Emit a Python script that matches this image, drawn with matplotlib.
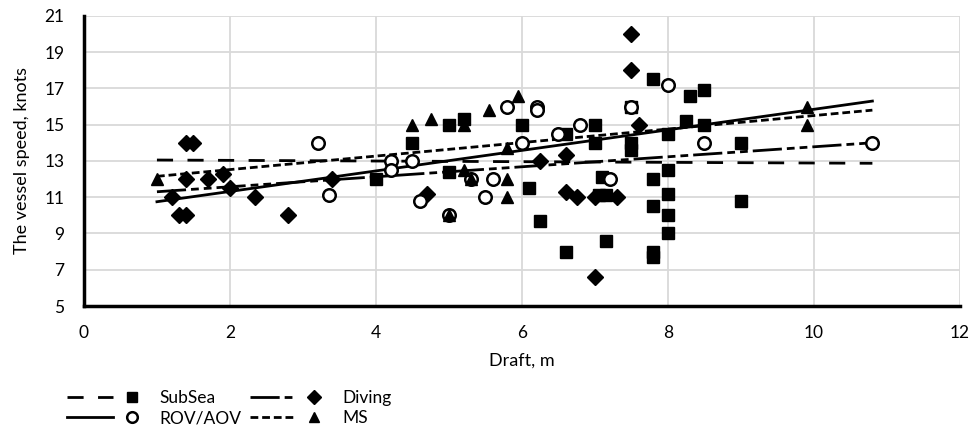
import matplotlib

matplotlib.use('Agg')
import matplotlib.pyplot as plt
from matplotlib.legend_handler import HandlerBase
from matplotlib.lines import Line2D

plt.rcParams['font.family'] = ['Lato', 'DejaVu Sans']

# scatter data (draft m, speed knots)
subsea_x = [4.0, 4.5, 5.0, 5.2, 5.0, 6.0, 6.1, 6.25, 6.6, 6.6, 7.0, 7.0, 7.1, 7.05, 7.15, 7.15,
            7.5, 7.5, 7.5, 7.8, 7.8, 7.8, 7.8, 7.8, 8.0, 8.0, 8.0, 8.0, 8.0, 8.25, 8.3, 8.5,
            8.5, 9.0, 9.0]
subsea_y = [12.0, 14.0, 15.0, 15.3, 12.4, 15.0, 11.5, 9.7, 14.5, 8.0, 15.0, 14.0, 12.1, 11.1, 11.1, 8.6,
            16.0, 13.6, 14.0, 17.5, 12.0, 10.5, 7.7, 8.0, 14.5, 12.5, 11.2, 10.0, 9.0, 15.2, 16.6, 16.9,
            15.0, 14.0, 10.8]

diving_x = [1.2, 1.4, 1.5, 1.3, 1.4, 1.4, 1.7, 1.9, 2.0, 2.35, 2.8, 3.4, 4.7, 6.25, 6.6, 6.6,
            6.75, 7.0, 7.3, 7.0, 7.5, 7.5, 7.6]
diving_y = [11.0, 14.0, 14.0, 10.0, 10.0, 12.0, 12.0, 12.3, 11.5, 11.0, 10.0, 12.0, 11.2, 13.0, 13.3, 11.3,
            11.0, 11.0, 11.0, 6.6, 20.0, 18.0, 15.0]

rov_x = [3.2, 3.35, 4.2, 4.2, 4.5, 4.6, 5.0, 5.3, 5.5, 5.6, 5.8, 6.0, 6.2, 6.2, 6.5, 6.8,
         7.2, 7.5, 8.0, 8.5, 10.8]
rov_y = [14.0, 11.1, 13.0, 12.5, 13.0, 10.8, 10.0, 12.0, 11.0, 12.0, 16.0, 14.0, 16.0, 15.8, 14.5, 15.0,
         12.0, 16.0, 17.2, 14.0, 14.0]

ms_x = [1.0, 4.5, 4.75, 5.0, 5.2, 5.2, 5.3, 5.55, 5.8, 5.8, 5.8, 5.95, 9.9, 9.9]
ms_y = [12.0, 15.0, 15.3, 10.0, 15.0, 12.5, 12.0, 15.8, 13.7, 12.0, 11.0, 16.6, 16.0, 15.0]

# linear trend lines, end points
trend_x = [1.0, 10.8]
subsea_trend = [13.05, 12.87]
diving_trend = [11.3, 14.0]
rov_trend = [10.75, 16.3]
ms_trend = [12.15, 15.8]

labels = ['SubSea', 'ROV/AOV', 'Diving', 'MS']


class LineMarkerHandler(HandlerBase):
    # line segment followed by the marker, as in the original legend
    def create_artists(self, legend, orig_handle, xdescent, ydescent, width, height, fontsize, trans):
        line_src, mark_src = orig_handle
        y = height / 2 - ydescent
        x0 = -xdescent
        line = Line2D([x0, x0 + 0.6 * width], [y, y], color='black',
                      lw=line_src.get_linewidth(), linestyle=line_src.get_linestyle())
        if line_src._unscaled_dash_pattern[1]:
            line.set_dashes(line_src._unscaled_dash_pattern[1])
        mark = Line2D([x0 + 0.84 * width], [y], linestyle='none',
                      marker=mark_src.get_marker(), markersize=mark_src.get_markersize() * 0.85,
                      mfc=mark_src.get_markerfacecolor(), mec=mark_src.get_markeredgecolor(),
                      mew=mark_src.get_markeredgewidth())
        line.set_transform(trans)
        mark.set_transform(trans)
        return [line, mark]


fig = plt.figure(figsize=(9.76, 4.28), dpi=100)
ax = fig.add_axes([0.086, 0.285, 0.8976, 0.678])

lw = 2.0
t1, = ax.plot(trend_x, subsea_trend, color='black', lw=lw, dashes=(5.8, 5.2))
t2, = ax.plot(trend_x, diving_trend, color='black', lw=lw, dashes=(10.5, 1.8, 2.8, 1.8, 2.8, 1.8))
t3, = ax.plot(trend_x, rov_trend, color='black', lw=lw)
t4, = ax.plot(trend_x, ms_trend, color='black', lw=lw, dashes=(2.8, 1.4))

m1, = ax.plot(subsea_x, subsea_y, ls='none', marker='s', ms=8.5, color='black', zorder=3)
m2, = ax.plot(diving_x, diving_y, ls='none', marker='D', ms=7.8, color='black', zorder=3)
m3, = ax.plot(rov_x, rov_y, ls='none', marker='o', ms=9, mfc='white', mec='black', mew=1.8, zorder=3)
m4, = ax.plot(ms_x, ms_y, ls='none', marker='^', ms=9, color='black', zorder=3)

ax.set_xlim(0, 12)
ax.set_ylim(5, 21)
ax.set_xticks(range(0, 13, 2))
ax.set_yticks(range(5, 22, 2))
ax.grid(True, color='#d9d9d9', lw=1.3)
ax.set_axisbelow(True)
ax.tick_params(length=0, labelsize=12.5)
ax.tick_params(axis='x', pad=14)
ax.tick_params(axis='y', pad=14)
for side in ('top', 'right'):
    ax.spines[side].set_visible(False)
for side in ('left', 'bottom'):
    ax.spines[side].set_linewidth(2.5)
    ax.spines[side].set_color('black')

ax.set_xlabel('Draft, m', fontsize=13, labelpad=8)
ax.set_ylabel('The vessel speed, knots', fontsize=13, labelpad=10)

handles = [(t1, m1), (t3, m3), (t2, m2), (t4, m4)]
fig.legend(handles, labels, handler_map={tuple: LineMarkerHandler()},
           loc='upper left', bbox_to_anchor=(0.062, 0.105), ncol=2, frameon=False,
           fontsize=12.5, handlelength=4.4, handletextpad=0.9, columnspacing=0.5,
           labelspacing=0.25, borderaxespad=0)

fig.savefig('out.png', dpi=100)
plt.close(fig)
